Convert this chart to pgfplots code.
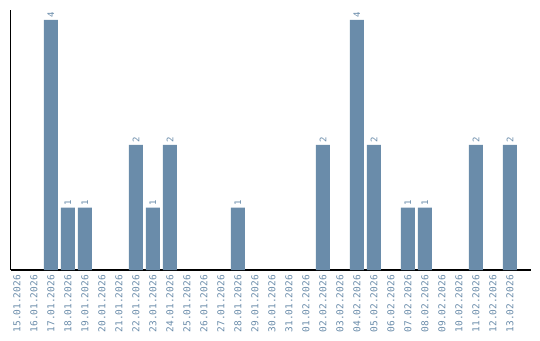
\documentclass[border=0pt]{standalone}
\usepackage{pgfplots}
\pgfplotsset{compat=1.18}
\usepackage{fontspec}
\setmainfont{Liberation Sans}
\newfontfamily\monof{DejaVu Sans Mono}
\definecolor{barc}{HTML}{6A8CAA}
\definecolor{txtc}{HTML}{6A8CAA}
\begin{document}
\begin{tikzpicture}
\path[use as bounding box] (-10.5pt,-70pt) rectangle (529.5pt,270pt);
\begin{axis}[
  scale only axis, width=520.5pt, height=260pt,
  xmin=-0.38, xmax=30.24, ymin=0, ymax=4.16,
  axis lines*=left,
  axis line style={line width=1.5pt, black},
  ytick=\empty,
  xtick={0,...,29},
  xticklabels={15.01.2026,16.01.2026,17.01.2026,18.01.2026,19.01.2026,20.01.2026,21.01.2026,22.01.2026,23.01.2026,24.01.2026,25.01.2026,26.01.2026,27.01.2026,28.01.2026,29.01.2026,30.01.2026,31.01.2026,01.02.2026,02.02.2026,03.02.2026,04.02.2026,05.02.2026,06.02.2026,07.02.2026,08.02.2026,09.02.2026,10.02.2026,11.02.2026,12.02.2026,13.02.2026},
  major tick length=0pt,
  xticklabel style={rotate=90, anchor=east, font=\monof\fontsize{9.5}{10}\selectfont, text=txtc, inner xsep=5pt, inner ysep=0pt},
  ybar, bar width=14pt, bar shift=0pt,
  nodes near coords,
  /pgf/number format/assume math mode=true,
  nodes near coords style={rotate=90, anchor=west, font=\monof\fontsize{9}{10}\selectfont, text=txtc, inner xsep=2pt, inner ysep=0pt},
  clip=false,
]
\addplot[fill=barc, draw=none] coordinates {
(2,4) (3,1) (4,1) (7,2) (8,1) (9,2) (13,1) (18,2) (20,4) (21,2) (23,1) (24,1) (27,2) (29,2)
};
\end{axis}
\end{tikzpicture}
\end{document}
